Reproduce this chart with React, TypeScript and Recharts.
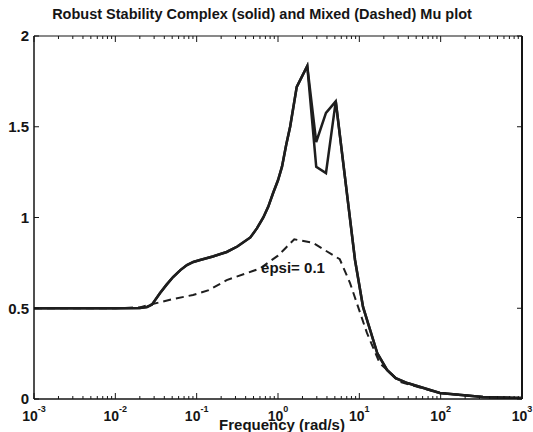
import React from "react";
import { LineChart, Line, XAxis, YAxis, ReferenceLine, ReferenceDot } from "recharts";

// complex mu (solid): upper and lower bound share everything except the notch between the peaks
const riseFreq = [0.001, 0.01, 0.02, 0.0245, 0.0282, 0.0355, 0.0427, 0.0513, 0.063, 0.0759, 0.091, 0.11, 0.158, 0.234, 0.316, 0.457, 0.55, 0.66, 0.76, 0.871, 1.0, 1.12, 1.26, 1.41, 1.7, 2.29];
const riseMu = [0.5, 0.5, 0.502, 0.507, 0.52, 0.584, 0.63, 0.672, 0.71, 0.738, 0.755, 0.766, 0.785, 0.81, 0.84, 0.89, 0.94, 1.0, 1.06, 1.135, 1.205, 1.28, 1.4, 1.5, 1.72, 1.835];
const notchFreq = [2.95, 3.89];
const upperNotchMu = [1.416, 1.576];
const lowerNotchMu = [1.28, 1.245];
const fallFreq = [5.13, 8.85, 11.1, 16.6, 21.9, 28, 38.9, 97.7, 331, 1000];
const fallMu = [1.64, 0.766, 0.507, 0.253, 0.16, 0.115, 0.088, 0.033, 0.011, 0.005];

// mixed mu (dashed)
const mixedFreq = [0.001, 0.01, 0.02, 0.0269, 0.0501, 0.0902, 0.141, 0.234, 0.49, 0.603, 1.0, 1.26, 1.585, 2.69, 5.75, 7.67, 12.4, 17.8, 31.6, 97.7, 331, 1000];
const mixedMu = [0.5, 0.5, 0.505, 0.52, 0.55, 0.573, 0.6, 0.655, 0.705, 0.72, 0.79, 0.835, 0.88, 0.86, 0.77, 0.64, 0.364, 0.198, 0.094, 0.033, 0.011, 0.005];

const decadeExps = [-3, -2, -1, 0, 1, 2, 3];
const muTicks = [0, 0.5, 1, 1.5, 2];

const pts = (f: number[], v: number[]) => f.map((x, i) => ({ f: x, mu: v[i] }));
const upperData = pts([...riseFreq, ...notchFreq, ...fallFreq], [...riseMu, ...upperNotchMu, ...fallMu]);
const lowerData = pts([...riseFreq, ...notchFreq, ...fallFreq], [...riseMu, ...lowerNotchMu, ...fallMu]);
const mixedData = pts(mixedFreq, mixedMu);

const freqTicks: number[] = [];
decadeExps.forEach((e) => {
  const base = Math.pow(10, e);
  freqTicks.push(base);
  if (e < 3) for (let k = 2; k <= 9; k++) freqTicks.push(k * base);
});

const PLOT_W = 488;
const PLOT_H = 363;
const FONT = "'Liberation Sans', Arial, Helvetica, sans-serif";
const INK = "#151515";

function FreqTick(props: any) {
  const { x, y, payload } = props;
  const v = payload.value;
  const e = Math.round(Math.log10(v));
  const major = Math.abs(v / Math.pow(10, e) - 1) < 1e-6;
  const len = major ? 6 : 3;
  return (
    <g>
      <line x1={x} x2={x} y1={y} y2={y - len} stroke={INK} />
      <line x1={x} x2={x} y1={y - PLOT_H} y2={y - PLOT_H + len} stroke={INK} />
      {major && (
        <text x={x} y={y + 22} textAnchor="middle" fontFamily={FONT} fontWeight="bold" fontSize={14} fill={INK}>
          10
          <tspan dy={-9} fontSize={9}>{e}</tspan>
        </text>
      )}
    </g>
  );
}

function MuTick(props: any) {
  const { x, y, payload } = props;
  return (
    <g>
      <line x1={x} x2={x + 5} y1={y} y2={y} stroke={INK} />
      <line x1={x + PLOT_W} x2={x + PLOT_W - 5} y1={y} y2={y} stroke={INK} />
      <text x={x - 5} y={y} dy="0.36em" textAnchor="end" fontFamily={FONT} fontWeight="bold" fontSize={15} fill={INK}>
        {payload.value}
      </text>
    </g>
  );
}

const epsiLabel = (p: any) => (
  <text x={p.viewBox.x} y={p.viewBox.y} fontFamily={FONT} fontWeight="bold" fontSize={15} fill={INK}>
    epsi= 0.1
  </text>
);

export default function App() {
  return (
    <div style={{ position: "relative", width: 533, height: 432, background: "#fff" }}>
      <style>{"body{margin:0}"}</style>
      <div
        style={{
          position: "absolute",
          top: 6,
          left: 0,
          width: 524,
          textAlign: "center",
          fontFamily: FONT,
          fontWeight: "bold",
          fontSize: 14.5,
          color: INK,
        }}
      >
        Robust Stability Complex (solid) and Mixed (Dashed) Mu plot
      </div>
      <LineChart width={533} height={432} margin={{ top: 36, right: 11, bottom: 0, left: 0 }}>
        <XAxis
          dataKey="f"
          type="number"
          scale="log"
          domain={[0.001, 1000]}
          allowDataOverflow
          ticks={freqTicks}
          interval={0}
          tick={<FreqTick />}
          tickLine={false}
          tickSize={0}
          tickMargin={0}
          height={33}
          axisLine={{ stroke: INK, strokeWidth: 1.5 }}
          label={{
            value: "Frequency (rad/s)",
            position: "insideBottom",
            offset: 2,
            dx: 4,
            fontFamily: FONT,
            fontWeight: "bold",
            fontSize: 15,
            fill: INK,
          }}
        />
        <YAxis
          type="number"
          domain={[0, 2]}
          allowDataOverflow
          ticks={muTicks}
          interval={0}
          tick={<MuTick />}
          tickLine={false}
          tickSize={0}
          tickMargin={0}
          width={34}
          axisLine={{ stroke: INK, strokeWidth: 1.5 }}
        />
        <ReferenceLine y={2} stroke={INK} strokeWidth={1.2} />
        <ReferenceLine x={1000} stroke={INK} strokeWidth={2} />
        <Line data={mixedData} dataKey="mu" type="linear" stroke="#1e1e1e" strokeWidth={2} strokeDasharray="8 5" dot={false} isAnimationActive={false} />
        <Line data={lowerData} dataKey="mu" type="linear" stroke="#1e1e1e" strokeWidth={2.5} dot={false} isAnimationActive={false} />
        <Line data={upperData} dataKey="mu" type="linear" stroke="#1e1e1e" strokeWidth={2.5} dot={false} isAnimationActive={false} />
        <ReferenceDot x={0.62} y={0.694} r={0} fill="none" stroke="none" label={epsiLabel} />
      </LineChart>
    </div>
  );
}
